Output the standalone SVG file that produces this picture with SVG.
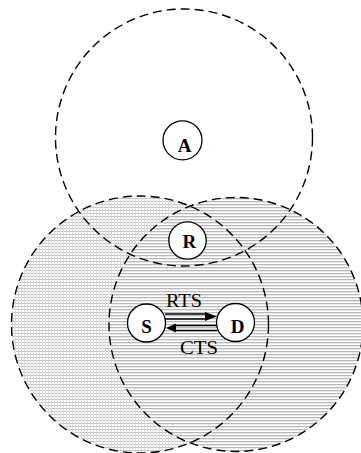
<svg xmlns="http://www.w3.org/2000/svg" width="361" height="453" viewBox="0 0 361 453">
<defs>
<pattern id="dots" x="0" y="0" width="3" height="3" patternUnits="userSpaceOnUse">
<rect x="0" y="0" width="3" height="3" fill="#ffffff"/>
<rect x="0" y="0" width="3" height="1" fill="#c4c4c4"/>
<rect x="0" y="0" width="1" height="3" fill="#dcdcdc"/>
</pattern>
<pattern id="lines" x="0" y="0" width="3" height="3" patternUnits="userSpaceOnUse">
<rect x="0" y="0" width="3" height="3" fill="#ffffff"/>
<rect x="0" y="0" width="3" height="1.3" fill="#b8b8b8"/>
</pattern>
<style>
.range{fill:none;stroke:#000;stroke-width:1.4;stroke-dasharray:9 5}
.node circle{fill:#fff;stroke:#000;stroke-width:1.3}
.node text{font-family:"Liberation Serif",serif;font-weight:bold;font-size:19px;text-anchor:middle;fill:#000}
.lbl{font-family:"Liberation Serif",serif;font-size:19px;text-anchor:middle;fill:#000}
.shaft{stroke:#000;stroke-width:1.3}
</style>
</defs>
<g id="ranges">
<circle cx="140" cy="324.5" r="128.5" fill="url(#dots)"/>
<circle cx="236" cy="324.5" r="127" fill="url(#lines)"/>
<circle class="range" cx="140" cy="324.5" r="128.5"/>
<circle class="range" cx="236" cy="324.5" r="127"/>
<circle class="range" cx="184" cy="137.5" r="128.5"/>
</g>
<g id="connectors">
<line class="shaft" x1="165" y1="314" x2="207" y2="314"/>
<line class="shaft" x1="165" y1="319" x2="207" y2="319"/>
<polygon points="205,312 217,316.5 205,321" fill="#000"/>
<line class="shaft" x1="175" y1="325.5" x2="217" y2="325.5"/>
<line class="shaft" x1="175" y1="330.5" x2="217" y2="330.5"/>
<polygon points="176,323.5 166,328 176,332.5" fill="#000"/>
<text class="lbl" x="184" y="306.5" textLength="36" lengthAdjust="spacingAndGlyphs">RTS</text>
<text class="lbl" x="199" y="353.5" textLength="38" lengthAdjust="spacingAndGlyphs">CTS</text>
</g>
<g id="node-A" class="node"><circle cx="182.5" cy="140.3" r="19.5"/><text x="184.5" y="151.5">A</text></g>
<g id="node-R" class="node"><circle cx="187.5" cy="240.5" r="18.7"/><text x="189.3" y="248.3">R</text></g>
<g id="node-S" class="node"><circle cx="146.5" cy="323" r="19"/><text x="146.5" y="333.3">S</text></g>
<g id="node-D" class="node"><circle cx="235.5" cy="322.5" r="19"/><text x="237.5" y="333.3">D</text></g>
</svg>
